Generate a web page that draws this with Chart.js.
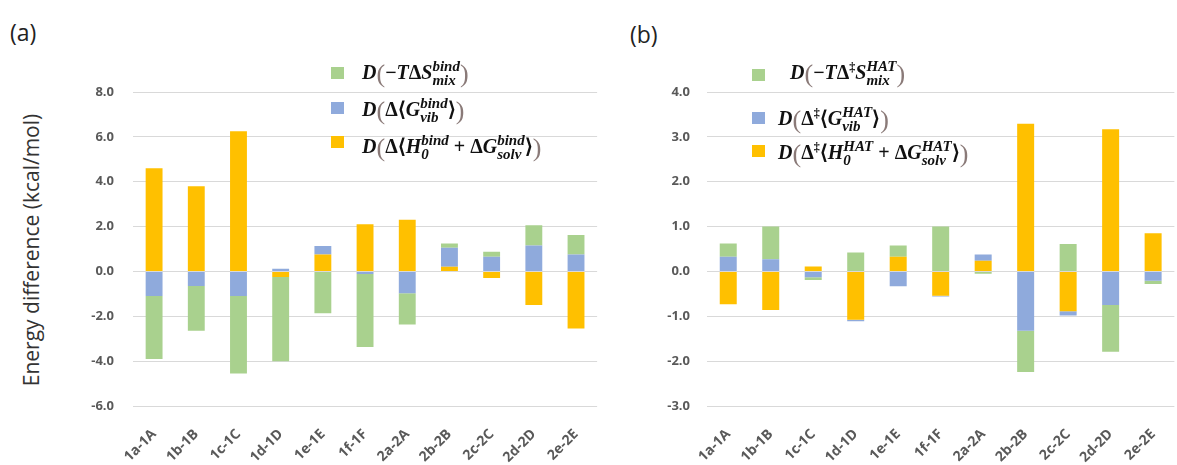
<!DOCTYPE html>
<html>
<head>
<meta charset="utf-8">
<script src="https://cdn.jsdelivr.net/npm/chart.js@4/dist/chart.umd.min.js"></script>
<style>
  body { margin: 0; width: 1177px; height: 465px; overflow: hidden; background: #fff; position: relative; font-family: "Open Sans", sans-serif; }
  canvas { position: absolute; top: 0; }
  .panel { position: absolute; font-size: 23px; color: #222; }
  .ytitle { position: absolute; left: 31px; top: 250px; transform: translate(-50%, -50%) rotate(-90deg); white-space: nowrap; font-size: 21px; color: #333; }
  .leg { position: absolute; font-family: "Liberation Serif", serif; font-size: 20px; font-weight: bold; font-style: italic; color: #111; white-space: nowrap; line-height: 1; }
  .sw { position: absolute; width: 13px; height: 12px; }
  .p { font-style: normal; font-weight: normal; color: #8a7a78; font-size: 1.3em; vertical-align: -0.12em; }
  .u { font-style: normal; }
  .ss { display: inline-block; vertical-align: -0.42em; font-size: 0.75em; line-height: 0.92; }
  .ss span { display: block; }
</style>
</head>
<body>
<div class="panel" style="left:10px; top:16px;">(a)</div>
<div class="panel" style="left:630px; top:18px;">(b)</div>
<div class="ytitle">Energy difference (kcal/mol)</div>

<canvas id="chartA" width="600" height="465" style="left:0;"></canvas>
<canvas id="chartB" width="577" height="465" style="left:600px;"></canvas>

<div class="sw" style="left:331px; top:67px; background:#a9d18e;"></div>
<div class="leg" style="left:362px; top:60px;">D<span class="p">(</span><span class="u">−</span>T<span class="u">Δ</span>S<span class="ss"><span>bind</span><span>mix</span></span><span class="p">)</span></div>
<div class="sw" style="left:331px; top:102px; background:#8faadc;"></div>
<div class="leg" style="left:362px; top:97px;">D<span class="p">(</span><span class="u">Δ⟨</span>G<span class="ss"><span>bind</span><span>vib</span></span><span class="u">⟩</span><span class="p">)</span></div>
<div class="sw" style="left:331px; top:136px; background:#ffc000;"></div>
<div class="leg" style="left:362px; top:134px;">D<span class="p">(</span><span class="u">Δ⟨</span>H<span class="ss"><span>bind</span><span>0</span></span> <span class="u">+ Δ</span>G<span class="ss"><span>bind</span><span>solv</span></span><span class="u">⟩</span><span class="p">)</span></div>

<div class="sw" style="left:752px; top:69px; background:#a9d18e;"></div>
<div class="leg" style="left:790px; top:60px;">D<span class="p">(</span><span class="u">−</span>T<span class="u">Δ<sup style="font-size:0.6em">‡</sup></span>S<span class="ss"><span>HAT</span><span>mix</span></span><span class="p">)</span></div>
<div class="sw" style="left:752px; top:112px; background:#8faadc;"></div>
<div class="leg" style="left:778px; top:106px;">D<span class="p">(</span><span class="u">Δ<sup style="font-size:0.6em">‡</sup>⟨</span>G<span class="ss"><span>HAT</span><span>vib</span></span><span class="u">⟩</span><span class="p">)</span></div>
<div class="sw" style="left:752px; top:145px; background:#ffc000;"></div>
<div class="leg" style="left:778px; top:140px;">D<span class="p">(</span><span class="u">Δ<sup style="font-size:0.6em">‡</sup>⟨</span>H<span class="ss"><span>HAT</span><span>0</span></span> <span class="u">+ Δ</span>G<span class="ss"><span>HAT</span><span>solv</span></span><span class="u">⟩</span><span class="p">)</span></div>

<script>
const categories = ['1a-1A', '1b-1B', '1c-1C', '1d-1D', '1e-1E', '1f-1F', '2a-2A', '2b-2B', '2c-2C', '2d-2D', '2e-2E'];

// (a) binding
const bindEnthalpy = [4.6, 3.8, 6.25, -0.25, 0.76, 2.1, 2.3, 0.21, -0.29, -1.5, -2.55];
const bindVib = [-1.1, -0.65, -1.1, 0.12, 0.37, -0.12, -0.97, 0.85, 0.66, 1.16, 0.75];
const bindMix = [-2.8, -2.0, -3.45, -3.75, -1.87, -3.25, -1.4, 0.19, 0.22, 0.9, 0.87];

// (b) HAT
const hatEnthalpy = [-0.73, -0.86, 0.11, -1.08, 0.33, -0.54, 0.24, 3.29, -0.89, 3.17, 0.85];
const hatVib = [0.33, 0.27, -0.13, -0.03, -0.33, -0.02, 0.14, -1.32, -0.09, -0.75, -0.21];
const hatMix = [0.29, 0.73, -0.06, 0.42, 0.25, 1.0, -0.05, -0.92, 0.61, -1.04, -0.07];

const yTickFont = { family: 'Open Sans', size: 13, weight: 'bold' };
const xTickFont = { family: 'Open Sans', size: 14, weight: 'bold' };

function makePanel(id, enthalpy, vib, mix, yMin, yMax, step, axisWidth, tickPad, padRight) {
  const ctx = document.getElementById(id).getContext('2d');
  return new Chart(ctx, {
    type: 'bar',
    data: {
      labels: categories,
      datasets: [
        { label: 'enthalpy + solvation', data: enthalpy, backgroundColor: '#ffc000' },
        { label: 'vibrational', data: vib, backgroundColor: '#8faadc' },
        { label: 'mixing entropy', data: mix, backgroundColor: '#a9d18e' }
      ]
    },
    options: {
      responsive: false,
      animation: false,
      layout: { padding: { top: 92, right: padRight, bottom: 0, left: 0 } },
      datasets: { bar: { categoryPercentage: 1, barPercentage: 0.4, borderWidth: 0 } },
      plugins: { legend: { display: false }, tooltip: { enabled: false } },
      scales: {
        x: {
          stacked: true,
          grid: { display: false },
          border: { display: false },
          ticks: { autoSkip: false, minRotation: 45, maxRotation: 45, color: '#595959', font: xTickFont, padding: 12 },
          afterFit: (s) => { s.height = 59; }
        },
        y: {
          stacked: true,
          min: yMin,
          max: yMax,
          grid: { color: '#d9d9d9', drawTicks: false },
          border: { display: false },
          ticks: { stepSize: step, color: '#595959', font: yTickFont, padding: tickPad, callback: (v) => v.toFixed(1) },
          afterFit: (s) => { s.width = axisWidth; }
        }
      }
    }
  });
}

makePanel('chartA', bindEnthalpy, bindVib, bindMix, -6, 8, 2, 133, 19, 2);
makePanel('chartB', hatEnthalpy, hatVib, hatMix, -3, 4, 1, 107, 17, 0);
</script>
</body>
</html>
